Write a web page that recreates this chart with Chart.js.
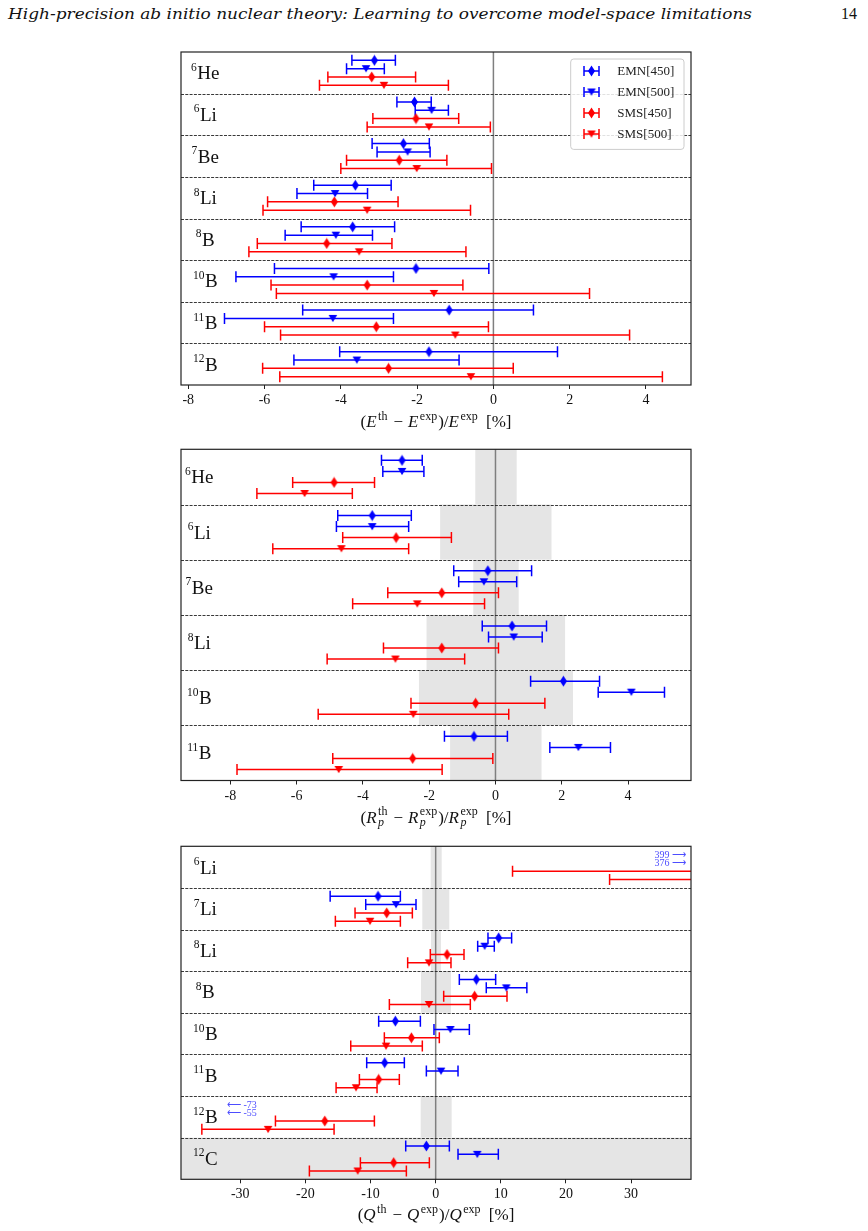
<!DOCTYPE html>
<html>
<head>
<meta charset="utf-8">
<title>Ab initio deviations</title>
<script src="https://cdn.jsdelivr.net/npm/chart.js@4.4.0/dist/chart.umd.min.js"></script>
<style>
body { margin: 0; background: #fff; width: 868px; height: 1231px; position: relative; overflow: hidden; }
#head { position: absolute; left: 8px; top: 4px; font: italic 15px "DejaVu Serif"; line-height: 20px; white-space: nowrap; transform-origin: 0 0; color: #111; }
#pageno { position: absolute; left: 841px; top: 4px; font: 16px "Liberation Serif"; line-height: 20px; color: #111; }
.panel { position: absolute; left: 0; width: 868px; }
</style>
</head>
<body>
<div id="head">High-precision ab initio nuclear theory: Learning to overcome model-space limitations</div>
<div id="pageno">14</div>
<div class="panel" style="top:40px;height:400px"><canvas id="cE"></canvas></div>
<div class="panel" style="top:440px;height:400px"><canvas id="cR"></canvas></div>
<div class="panel" style="top:840px;height:391px"><canvas id="cQ"></canvas></div>
<script>
// ---- data ----
var SERIES_NAMES = ['EMN[450]', 'EMN[500]', 'SMS[450]', 'SMS[500]'];

// energies
var E_MASS = ['6', '6', '7', '8', '8', '10', '11', '12'];
var E_ELEM = ['He', 'Li', 'Be', 'Li', 'B', 'B', 'B', 'B'];
var E_TICKS = [-8, -6, -4, -2, 0, 2, 4];
var E_EMN450 = [-3.12, -2.07, -2.36, -3.62, -3.69, -2.03, -1.16, -1.69];
var E_EMN450_LO = [-3.71, -2.53, -3.18, -4.71, -5.04, -5.74, -5.00, -4.03];
var E_EMN450_HI = [-2.57, -1.63, -1.68, -2.68, -2.59, -0.12, 1.05, 1.68];
var E_EMN500 = [-3.34, -1.62, -2.25, -4.15, -4.13, -4.19, -4.21, -3.58];
var E_EMN500_LO = [-3.85, -2.05, -3.05, -5.15, -5.46, -6.75, -7.05, -5.23];
var E_EMN500_HI = [-2.86, -1.18, -1.66, -3.30, -3.17, -2.62, -2.62, -0.90];
var E_SMS450 = [-3.19, -2.03, -2.47, -4.17, -4.37, -3.31, -3.07, -2.75];
var E_SMS450_LO = [-4.34, -3.16, -3.85, -5.92, -6.19, -5.83, -6.00, -6.05];
var E_SMS450_HI = [-2.04, -0.91, -1.22, -2.50, -2.66, -0.80, -0.13, 0.52];
var E_SMS500 = [-2.87, -1.69, -2.01, -3.31, -3.52, -1.56, -1.00, -0.59];
var E_SMS500_LO = [-4.56, -3.31, -4.00, -6.04, -6.41, -5.69, -5.58, -5.60];
var E_SMS500_HI = [-1.18, -0.08, -0.05, -0.60, -0.72, 2.52, 3.57, 4.43];

// point-proton radii
var R_MASS = ['6', '6', '7', '8', '10', '11'];
var R_ELEM = ['He', 'Li', 'Be', 'Li', 'B', 'B'];
var R_TICKS = [-8, -6, -4, -2, 0, 2, 4];
var R_EMN450 = [-2.82, -3.72, -0.23, 0.50, 2.05, -0.65];
var R_EMN450_LO = [-3.44, -4.76, -1.26, -0.40, 1.06, -1.54];
var R_EMN450_HI = [-2.21, -2.54, 1.09, 1.54, 3.14, 0.36];
var R_EMN500 = [-2.82, -3.72, -0.35, 0.55, 4.10, 2.50];
var R_EMN500_LO = [-3.40, -4.80, -1.11, -0.21, 3.10, 1.64];
var R_EMN500_HI = [-2.16, -2.62, 0.64, 1.41, 5.10, 3.47];
var R_SMS450 = [-4.87, -3.00, -1.62, -1.62, -0.60, -2.50];
var R_SMS450_LO = [-6.12, -4.61, -3.25, -3.38, -2.55, -4.91];
var R_SMS450_HI = [-3.65, -1.33, 0.09, 0.09, 1.49, -0.08];
var R_SMS500 = [-5.76, -4.65, -2.36, -3.02, -2.48, -4.73];
var R_SMS500_LO = [-7.20, -6.72, -4.31, -5.08, -5.35, -7.80];
var R_SMS500_HI = [-4.32, -2.62, -0.33, -0.93, 0.40, -1.61];
var R_EXP_LO = [-0.61, -1.67, -0.67, -2.08, -2.31, -1.37];
var R_EXP_HI = [0.64, 1.69, 0.70, 2.10, 2.34, 1.39];

// quadrupole moments
var Q_MASS = ['6', '7', '8', '8', '10', '11', '12', '12'];
var Q_ELEM = ['Li', 'Li', 'Li', 'B', 'B', 'B', 'B', 'C'];
var Q_TICKS = [-30, -20, -10, 0, 10, 20, 30];
var Q_EMN450 = [399, -8.85, 9.67, 6.24, -6.19, -7.83, -73, -1.43];
var Q_EMN450_LO = [null, -16.2, 8.03, 3.63, -8.75, -10.59, null, -4.6];
var Q_EMN450_HI = [null, -5.42, 11.66, 9.21, -2.35, -4.81, null, 2.10];
var Q_EMN500 = [376, -6.09, 7.52, 10.84, 2.25, 0.82, -55, 6.39];
var Q_EMN500_LO = [null, -10.74, 6.45, 7.77, -0.26, -1.43, null, 3.43];
var Q_EMN500_HI = [null, -3.02, 9.0, 14.0, 5.17, 3.43, null, 9.62];
var Q_SMS450 = [55, -7.52, 1.74, 5.98, -3.73, -8.75, -17.03, -6.45];
var Q_SMS450_LO = [11.8, -12.38, -0.82, 1.23, -7.88, -11.71, -24.6, -11.56];
var Q_SMS450_HI = [100, -3.58, 4.35, 10.95, 0.56, -5.58, -9.41, -0.97];
var Q_SMS500 = [65, -10.08, -1.02, -1.02, -7.62, -12.23, -25.73, -11.97];
var Q_SMS500_LO = [26.7, -15.4, -4.30, -7.11, -13.04, -15.29, -35.9, -19.39];
var Q_SMS500_HI = [105, -5.42, 2.35, 5.32, -2.05, -9.0, -15.6, -4.5];
var Q_EXP_LO = [-0.77, -2.05, -0.72, -2.25, null, null, -2.3, -100];
var Q_EXP_HI = [0.92, 2.09, 0.81, 2.35, null, null, 2.45, 100];

// ---- drawing helpers ----
var COLORS = ['#0000ff', '#0000ff', '#ff0000', '#ff0000'];
var ROW_OFF = [0.2, 0.4, 0.6, 0.8];
var SERIF = '"Liberation Serif"';

function markerCanvas(kind, color) {
    var c = document.createElement('canvas');
    var g;
    if (kind == 'diamond') {
        c.width = 9; c.height = 12;
        g = c.getContext('2d');
        g.fillStyle = color;
        g.beginPath();
        g.moveTo(4.5, 0.5); g.lineTo(8, 6); g.lineTo(4.5, 11.5); g.lineTo(1, 6);
    } else {
        c.width = 10; c.height = 9;
        g = c.getContext('2d');
        g.fillStyle = color;
        g.beginPath();
        g.moveTo(0.7, 1); g.lineTo(9.3, 1); g.lineTo(5, 8.2);
    }
    g.closePath();
    g.fill();
    return c;
}
var MARKERS = [
    markerCanvas('diamond', COLORS[0]), markerCanvas('tri', COLORS[1]),
    markerCanvas('diamond', COLORS[2]), markerCanvas('tri', COLORS[3])
];

function errBar(ctx, x1, x2, y, cap) {
    ctx.beginPath();
    ctx.moveTo(x1, y); ctx.lineTo(x2, y);
    ctx.moveTo(x1, y - cap); ctx.lineTo(x1, y + cap);
    ctx.moveTo(x2, y - cap); ctx.lineTo(x2, y + cap);
    ctx.stroke();
}

// title pieces: ['r', text] roman, ['i', text] italic, ['sup', text], ['ss', sub, sup], ['gap', px]
function drawMath(ctx, segs, cx, base) {
    var big = 17, small = 12;
    var fR = big + 'px ' + SERIF, fI = 'italic ' + big + 'px ' + SERIF;
    var sR = small + 'px ' + SERIF, sI = 'italic ' + small + 'px ' + SERIF;
    var widths = segs.map(function(s) {
        if (s[0] == 'gap') return s[1];
        if (s[0] == 'r') { ctx.font = fR; return ctx.measureText(s[1]).width; }
        if (s[0] == 'i') { ctx.font = fI; return ctx.measureText(s[1]).width + 1.5; }
        if (s[0] == 'sup') { ctx.font = sR; return ctx.measureText(s[1]).width + 1; }
        ctx.font = sI; var a = ctx.measureText(s[1]).width;
        ctx.font = sR; var b = ctx.measureText(s[2]).width;
        return Math.max(a, b) + 1;
    });
    var total = widths.reduce(function(a, b) { return a + b; }, 0);
    var x = cx - total / 2;
    ctx.textAlign = 'left';
    ctx.textBaseline = 'alphabetic';
    ctx.fillStyle = '#111';
    segs.forEach(function(s, i) {
        if (s[0] == 'r') { ctx.font = fR; ctx.fillText(s[1], x, base); }
        else if (s[0] == 'i') { ctx.font = fI; ctx.fillText(s[1], x, base); }
        else if (s[0] == 'sup') { ctx.font = sR; ctx.fillText(s[1], x, base - 7); }
        else if (s[0] == 'ss') {
            ctx.font = sI; ctx.fillText(s[1], x, base + 3.5);
            ctx.font = sR; ctx.fillText(s[2], x, base - 7.5);
        }
        x += widths[i];
    });
}

var PANELS = {};

var panelPlugin = {
    id: 'panel',
    beforeDatasetsDraw: function(chart) {
        var p = PANELS[chart.canvas.id];
        var ctx = chart.ctx, a = chart.chartArea;
        var xs = chart.scales.x, ys = chart.scales.y;
        ctx.save();
        ctx.beginPath();
        ctx.rect(a.left, a.top, a.right - a.left, a.bottom - a.top);
        ctx.clip();
        // experimental uncertainty bands
        if (p.bandLo) {
            ctx.fillStyle = '#e5e5e5';
            p.bandLo.forEach(function(lo, r) {
                if (lo == null) return;
                var x1 = xs.getPixelForValue(lo), x2 = xs.getPixelForValue(p.bandHi[r]);
                var y1 = ys.getPixelForValue(r), y2 = ys.getPixelForValue(r + 1);
                ctx.fillRect(x1, y1, x2 - x1, y2 - y1);
            });
        }
        // zero line
        var x0 = xs.getPixelForValue(0);
        ctx.strokeStyle = '#7f7f7f';
        ctx.lineWidth = 1.5;
        ctx.beginPath(); ctx.moveTo(x0, a.top); ctx.lineTo(x0, a.bottom); ctx.stroke();
        // row separators
        ctx.strokeStyle = '#222';
        ctx.lineWidth = 0.9;
        ctx.setLineDash([3, 1.3]);
        for (var r = 1; r < p.mass.length; r++) {
            var y = Math.round(ys.getPixelForValue(r)) + 0.5;
            ctx.beginPath(); ctx.moveTo(a.left, y); ctx.lineTo(a.right, y); ctx.stroke();
        }
        ctx.setLineDash([]);
        // error bars
        chart.data.datasets.forEach(function(ds) {
            ctx.strokeStyle = ds.borderColor;
            ctx.lineWidth = 1.5;
            ds.data.forEach(function(pt, i) {
                if (ds.lo[i] == null) return;
                errBar(ctx, xs.getPixelForValue(ds.lo[i]), xs.getPixelForValue(ds.hi[i]),
                    ys.getPixelForValue(pt.y), 5.5);
            });
        });
        ctx.restore();
    },
    afterDraw: function(chart) {
        var p = PANELS[chart.canvas.id];
        var ctx = chart.ctx, a = chart.chartArea;
        var xs = chart.scales.x, ys = chart.scales.y;
        ctx.save();
        // frame
        ctx.strokeStyle = '#222';
        ctx.lineWidth = 1.2;
        ctx.strokeRect(a.left, a.top, a.right - a.left, a.bottom - a.top);
        // nucleus labels
        ctx.fillStyle = '#111';
        ctx.textBaseline = 'alphabetic';
        ctx.textAlign = 'left';
        p.mass.forEach(function(m, r) {
            ctx.font = '11.5px ' + SERIF;
            var w1 = ctx.measureText(m).width;
            ctx.font = '19px ' + SERIF;
            var w2 = ctx.measureText(p.elem[r]).width;
            var x = a.left + p.labelX - (w1 + w2) / 2;
            var base = ys.getPixelForValue(r + 0.5) + 6.5;
            ctx.font = '11.5px ' + SERIF;
            ctx.fillText(m, x, base - 8.5);
            ctx.font = '19px ' + SERIF;
            ctx.fillText(p.elem[r], x + w1 + 0.5, base);
        });
        // off-scale values
        ctx.font = '10px ' + SERIF;
        chart.data.datasets.forEach(function(ds) {
            ds.data.forEach(function(pt, i) {
                if (ds.lo[i] != null) return;
                var y = ys.getPixelForValue(pt.y) + 3.5;
                ctx.fillStyle = '#4d4dff';
                if (pt.x > xs.max) {
                    ctx.textAlign = 'right';
                    ctx.fillText(pt.x + ' \u27f6', a.right - 5, y);
                } else if (pt.x < xs.min) {
                    ctx.textAlign = 'left';
                    ctx.fillText('\u27f5 ' + pt.x, a.left + 46, y);
                }
            });
        });
        // axis title
        drawMath(ctx, p.title, (a.left + a.right) / 2, a.bottom + p.titleDy);
        // legend
        if (p.legend) {
            var bw = 113.3, bh = 90.4;
            var bx = a.right - 7 - bw, by = a.top + 7;
            ctx.fillStyle = 'rgba(255,255,255,0.85)';
            ctx.strokeStyle = '#cccccc';
            ctx.lineWidth = 1;
            ctx.beginPath();
            ctx.roundRect(bx, by, bw, bh, 3);
            ctx.fill();
            ctx.stroke();
            SERIES_NAMES.forEach(function(name, k) {
                var y = by + 12 + k * 21;
                ctx.strokeStyle = COLORS[k];
                ctx.lineWidth = 1.5;
                errBar(ctx, bx + 13.3, bx + 28.3, y, 5);
                var m = MARKERS[k];
                ctx.drawImage(m, bx + 20.8 - m.width / 2, y - m.height / 2);
                ctx.fillStyle = '#222';
                ctx.font = '13px ' + SERIF;
                ctx.textAlign = 'left';
                ctx.textBaseline = 'middle';
                ctx.fillText(name, bx + 46.6, y + 1);
            });
        }
        ctx.restore();
    }
};

function buildPanel(id, p) {
    PANELS[id] = p;
    var datasets = p.vals.map(function(vals, k) {
        return {
            label: SERIES_NAMES[k],
            data: vals.map(function(v, i) { return { x: v, y: i + ROW_OFF[k] }; }),
            lo: p.lo[k],
            hi: p.hi[k],
            pointStyle: MARKERS[k],
            pointRadius: 5,
            backgroundColor: COLORS[k],
            borderColor: COLORS[k],
            showLine: false
        };
    });
    new Chart(document.getElementById(id), {
        type: 'scatter',
        data: { datasets: datasets },
        options: {
            responsive: true,
            maintainAspectRatio: false,
            animation: false,
            events: [],
            layout: { padding: { left: 181, right: 177, top: p.padTop, bottom: p.padBottom } },
            plugins: { legend: { display: false }, tooltip: { enabled: false } },
            scales: {
                x: {
                    type: 'linear',
                    min: p.min,
                    max: p.max,
                    afterBuildTicks: function(s) {
                        s.ticks = p.ticks.map(function(v) { return { value: v }; });
                    },
                    afterFit: function(s) { s.height = 22; },
                    ticks: {
                        font: { family: 'Liberation Serif', size: 14 },
                        color: '#111',
                        padding: 3,
                        maxRotation: 0,
                        autoSkip: false,
                        callback: function(v) { return String(v); }
                    },
                    grid: { drawOnChartArea: false, drawTicks: true, tickLength: 4, color: '#222' },
                    border: { display: false }
                },
                y: { type: 'linear', min: 0, max: p.mass.length, reverse: true, display: false }
            }
        },
        plugins: [panelPlugin]
    });
}

var MINUS = [['gap', 5], ['r', '\u2212'], ['gap', 5]];

buildPanel('cE', {
    mass: E_MASS, elem: E_ELEM, ticks: E_TICKS,
    vals: [E_EMN450, E_EMN500, E_SMS450, E_SMS500],
    lo: [E_EMN450_LO, E_EMN500_LO, E_SMS450_LO, E_SMS500_LO],
    hi: [E_EMN450_HI, E_EMN500_HI, E_SMS450_HI, E_SMS500_HI],
    min: -8.19, max: 5.18, padTop: 12, padBottom: 33, labelX: 24, titleDy: 42, legend: true,
    title: [['r', '('], ['i', 'E'], ['sup', 'th']].concat(MINUS, [['i', 'E'], ['sup', 'exp'],
        ['r', ')/'], ['i', 'E'], ['sup', 'exp'], ['gap', 3], ['r', ' [%]']])
});
buildPanel('cR', {
    mass: R_MASS, elem: R_ELEM, ticks: R_TICKS,
    vals: [R_EMN450, R_EMN500, R_SMS450, R_SMS500],
    lo: [R_EMN450_LO, R_EMN500_LO, R_SMS450_LO, R_SMS500_LO],
    hi: [R_EMN450_HI, R_EMN500_HI, R_SMS450_HI, R_SMS500_HI],
    bandLo: R_EXP_LO, bandHi: R_EXP_HI,
    min: -9.49, max: 5.90, padTop: 9.3, padBottom: 37.5, labelX: 18, titleDy: 42, legend: false,
    title: [['r', '('], ['i', 'R'], ['ss', 'p', 'th']].concat(MINUS, [['i', 'R'], ['ss', 'p', 'exp'],
        ['r', ')/'], ['i', 'R'], ['ss', 'p', 'exp'], ['gap', 3], ['r', ' [%]']])
});
buildPanel('cQ', {
    mass: Q_MASS, elem: Q_ELEM, ticks: Q_TICKS,
    vals: [Q_EMN450, Q_EMN500, Q_SMS450, Q_SMS500],
    lo: [Q_EMN450_LO, Q_EMN500_LO, Q_SMS450_LO, Q_SMS500_LO],
    hi: [Q_EMN450_HI, Q_EMN500_HI, Q_SMS450_HI, Q_SMS500_HI],
    bandLo: Q_EXP_LO, bandHi: Q_EXP_HI,
    min: -39.1, max: 39.2, padTop: 6.3, padBottom: 29.7, labelX: 24, titleDy: 41, legend: false,
    title: [['r', '('], ['i', 'Q'], ['sup', 'th']].concat(MINUS, [['i', 'Q'], ['sup', 'exp'],
        ['r', ')/'], ['i', 'Q'], ['sup', 'exp'], ['gap', 3], ['r', ' [%]']])
});

// stretch the running head to the page width of the original
var head = document.getElementById('head');
head.style.transform = 'scaleX(' + (744 / head.getBoundingClientRect().width) + ')';
</script>
</body>
</html>
